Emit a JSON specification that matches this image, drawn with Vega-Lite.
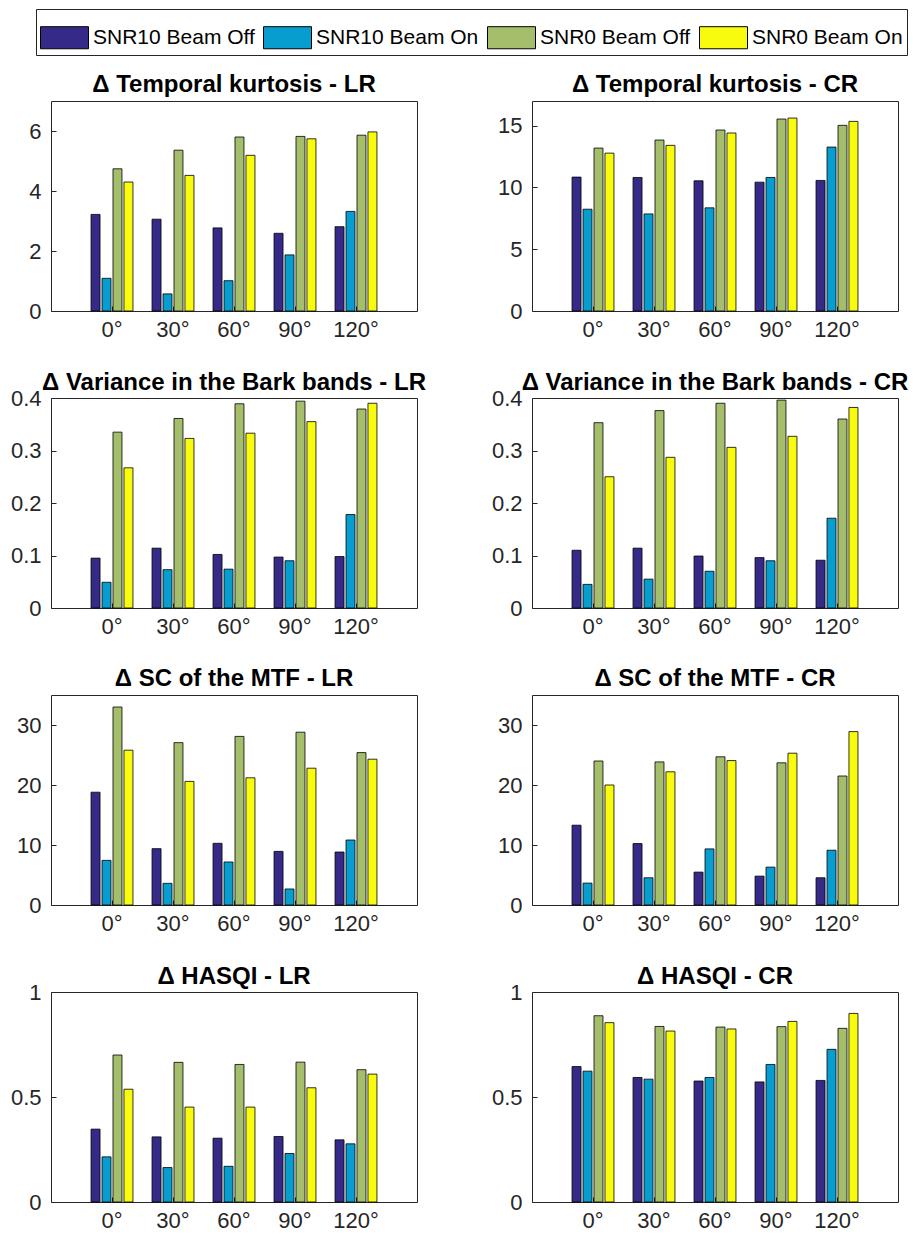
{
  "$schema": "https://vega.github.io/schema/vega-lite/v6.json",
  "background": "white",
  "padding": {"left": 9, "top": 8, "right": 5, "bottom": 0},
  "spacing": {"row": 87, "column": 115},
  "columns": 2,
  "bounds": "flush",
  "data": {"values": [
    {"panel":"TKLR","angle":"0°","series":"SNR10 Beam Off","value":3.22},
    {"panel":"TKLR","angle":"0°","series":"SNR10 Beam On","value":1.09},
    {"panel":"TKLR","angle":"0°","series":"SNR0 Beam Off","value":4.74},
    {"panel":"TKLR","angle":"0°","series":"SNR0 Beam On","value":4.30},
    {"panel":"TKLR","angle":"30°","series":"SNR10 Beam Off","value":3.06},
    {"panel":"TKLR","angle":"30°","series":"SNR10 Beam On","value":0.57},
    {"panel":"TKLR","angle":"30°","series":"SNR0 Beam Off","value":5.36},
    {"panel":"TKLR","angle":"30°","series":"SNR0 Beam On","value":4.52},
    {"panel":"TKLR","angle":"60°","series":"SNR10 Beam Off","value":2.77},
    {"panel":"TKLR","angle":"60°","series":"SNR10 Beam On","value":1.01},
    {"panel":"TKLR","angle":"60°","series":"SNR0 Beam Off","value":5.80},
    {"panel":"TKLR","angle":"60°","series":"SNR0 Beam On","value":5.19},
    {"panel":"TKLR","angle":"90°","series":"SNR10 Beam Off","value":2.59},
    {"panel":"TKLR","angle":"90°","series":"SNR10 Beam On","value":1.87},
    {"panel":"TKLR","angle":"90°","series":"SNR0 Beam Off","value":5.82},
    {"panel":"TKLR","angle":"90°","series":"SNR0 Beam On","value":5.74},
    {"panel":"TKLR","angle":"120°","series":"SNR10 Beam Off","value":2.81},
    {"panel":"TKLR","angle":"120°","series":"SNR10 Beam On","value":3.32},
    {"panel":"TKLR","angle":"120°","series":"SNR0 Beam Off","value":5.86},
    {"panel":"TKLR","angle":"120°","series":"SNR0 Beam On","value":5.97},

    {"panel":"TKCR","angle":"0°","series":"SNR10 Beam Off","value":10.84},
    {"panel":"TKCR","angle":"0°","series":"SNR10 Beam On","value":8.24},
    {"panel":"TKCR","angle":"0°","series":"SNR0 Beam Off","value":13.19},
    {"panel":"TKCR","angle":"0°","series":"SNR0 Beam On","value":12.78},
    {"panel":"TKCR","angle":"30°","series":"SNR10 Beam Off","value":10.81},
    {"panel":"TKCR","angle":"30°","series":"SNR10 Beam On","value":7.86},
    {"panel":"TKCR","angle":"30°","series":"SNR0 Beam Off","value":13.84},
    {"panel":"TKCR","angle":"30°","series":"SNR0 Beam On","value":13.41},
    {"panel":"TKCR","angle":"60°","series":"SNR10 Beam Off","value":10.54},
    {"panel":"TKCR","angle":"60°","series":"SNR10 Beam On","value":8.35},
    {"panel":"TKCR","angle":"60°","series":"SNR0 Beam Off","value":14.65},
    {"panel":"TKCR","angle":"60°","series":"SNR0 Beam On","value":14.41},
    {"panel":"TKCR","angle":"90°","series":"SNR10 Beam Off","value":10.43},
    {"panel":"TKCR","angle":"90°","series":"SNR10 Beam On","value":10.81},
    {"panel":"TKCR","angle":"90°","series":"SNR0 Beam Off","value":15.54},
    {"panel":"TKCR","angle":"90°","series":"SNR0 Beam On","value":15.62},
    {"panel":"TKCR","angle":"120°","series":"SNR10 Beam Off","value":10.57},
    {"panel":"TKCR","angle":"120°","series":"SNR10 Beam On","value":13.27},
    {"panel":"TKCR","angle":"120°","series":"SNR0 Beam Off","value":15.03},
    {"panel":"TKCR","angle":"120°","series":"SNR0 Beam On","value":15.35},

    {"panel":"VBLR","angle":"0°","series":"SNR10 Beam Off","value":0.095},
    {"panel":"VBLR","angle":"0°","series":"SNR10 Beam On","value":0.049},
    {"panel":"VBLR","angle":"0°","series":"SNR0 Beam Off","value":0.335},
    {"panel":"VBLR","angle":"0°","series":"SNR0 Beam On","value":0.267},
    {"panel":"VBLR","angle":"30°","series":"SNR10 Beam Off","value":0.114},
    {"panel":"VBLR","angle":"30°","series":"SNR10 Beam On","value":0.073},
    {"panel":"VBLR","angle":"30°","series":"SNR0 Beam Off","value":0.361},
    {"panel":"VBLR","angle":"30°","series":"SNR0 Beam On","value":0.323},
    {"panel":"VBLR","angle":"60°","series":"SNR10 Beam Off","value":0.102},
    {"panel":"VBLR","angle":"60°","series":"SNR10 Beam On","value":0.074},
    {"panel":"VBLR","angle":"60°","series":"SNR0 Beam Off","value":0.389},
    {"panel":"VBLR","angle":"60°","series":"SNR0 Beam On","value":0.333},
    {"panel":"VBLR","angle":"90°","series":"SNR10 Beam Off","value":0.097},
    {"panel":"VBLR","angle":"90°","series":"SNR10 Beam On","value":0.090},
    {"panel":"VBLR","angle":"90°","series":"SNR0 Beam Off","value":0.394},
    {"panel":"VBLR","angle":"90°","series":"SNR0 Beam On","value":0.355},
    {"panel":"VBLR","angle":"120°","series":"SNR10 Beam Off","value":0.098},
    {"panel":"VBLR","angle":"120°","series":"SNR10 Beam On","value":0.178},
    {"panel":"VBLR","angle":"120°","series":"SNR0 Beam Off","value":0.379},
    {"panel":"VBLR","angle":"120°","series":"SNR0 Beam On","value":0.390},

    {"panel":"VBCR","angle":"0°","series":"SNR10 Beam Off","value":0.110},
    {"panel":"VBCR","angle":"0°","series":"SNR10 Beam On","value":0.045},
    {"panel":"VBCR","angle":"0°","series":"SNR0 Beam Off","value":0.353},
    {"panel":"VBCR","angle":"0°","series":"SNR0 Beam On","value":0.250},
    {"panel":"VBCR","angle":"30°","series":"SNR10 Beam Off","value":0.114},
    {"panel":"VBCR","angle":"30°","series":"SNR10 Beam On","value":0.055},
    {"panel":"VBCR","angle":"30°","series":"SNR0 Beam Off","value":0.376},
    {"panel":"VBCR","angle":"30°","series":"SNR0 Beam On","value":0.287},
    {"panel":"VBCR","angle":"60°","series":"SNR10 Beam Off","value":0.099},
    {"panel":"VBCR","angle":"60°","series":"SNR10 Beam On","value":0.070},
    {"panel":"VBCR","angle":"60°","series":"SNR0 Beam Off","value":0.390},
    {"panel":"VBCR","angle":"60°","series":"SNR0 Beam On","value":0.306},
    {"panel":"VBCR","angle":"90°","series":"SNR10 Beam Off","value":0.096},
    {"panel":"VBCR","angle":"90°","series":"SNR10 Beam On","value":0.090},
    {"panel":"VBCR","angle":"90°","series":"SNR0 Beam Off","value":0.396},
    {"panel":"VBCR","angle":"90°","series":"SNR0 Beam On","value":0.327},
    {"panel":"VBCR","angle":"120°","series":"SNR10 Beam Off","value":0.091},
    {"panel":"VBCR","angle":"120°","series":"SNR10 Beam On","value":0.171},
    {"panel":"VBCR","angle":"120°","series":"SNR0 Beam Off","value":0.360},
    {"panel":"VBCR","angle":"120°","series":"SNR0 Beam On","value":0.382},

    {"panel":"SCLR","angle":"0°","series":"SNR10 Beam Off","value":18.8},
    {"panel":"SCLR","angle":"0°","series":"SNR10 Beam On","value":7.44},
    {"panel":"SCLR","angle":"0°","series":"SNR0 Beam Off","value":33.0},
    {"panel":"SCLR","angle":"0°","series":"SNR0 Beam On","value":25.8},
    {"panel":"SCLR","angle":"30°","series":"SNR10 Beam Off","value":9.39},
    {"panel":"SCLR","angle":"30°","series":"SNR10 Beam On","value":3.61},
    {"panel":"SCLR","angle":"30°","series":"SNR0 Beam Off","value":27.06},
    {"panel":"SCLR","angle":"30°","series":"SNR0 Beam On","value":20.6},
    {"panel":"SCLR","angle":"60°","series":"SNR10 Beam Off","value":10.28},
    {"panel":"SCLR","angle":"60°","series":"SNR10 Beam On","value":7.17},
    {"panel":"SCLR","angle":"60°","series":"SNR0 Beam Off","value":28.1},
    {"panel":"SCLR","angle":"60°","series":"SNR0 Beam On","value":21.2},
    {"panel":"SCLR","angle":"90°","series":"SNR10 Beam Off","value":8.94},
    {"panel":"SCLR","angle":"90°","series":"SNR10 Beam On","value":2.67},
    {"panel":"SCLR","angle":"90°","series":"SNR0 Beam Off","value":28.8},
    {"panel":"SCLR","angle":"90°","series":"SNR0 Beam On","value":22.8},
    {"panel":"SCLR","angle":"120°","series":"SNR10 Beam Off","value":8.83},
    {"panel":"SCLR","angle":"120°","series":"SNR10 Beam On","value":10.83},
    {"panel":"SCLR","angle":"120°","series":"SNR0 Beam Off","value":25.4},
    {"panel":"SCLR","angle":"120°","series":"SNR0 Beam On","value":24.3},

    {"panel":"SCCR","angle":"0°","series":"SNR10 Beam Off","value":13.3},
    {"panel":"SCCR","angle":"0°","series":"SNR10 Beam On","value":3.65},
    {"panel":"SCCR","angle":"0°","series":"SNR0 Beam Off","value":24.0},
    {"panel":"SCCR","angle":"0°","series":"SNR0 Beam On","value":20.0},
    {"panel":"SCCR","angle":"30°","series":"SNR10 Beam Off","value":10.24},
    {"panel":"SCCR","angle":"30°","series":"SNR10 Beam On","value":4.54},
    {"panel":"SCCR","angle":"30°","series":"SNR0 Beam Off","value":23.85},
    {"panel":"SCCR","angle":"30°","series":"SNR0 Beam On","value":22.2},
    {"panel":"SCCR","angle":"60°","series":"SNR10 Beam Off","value":5.48},
    {"panel":"SCCR","angle":"60°","series":"SNR10 Beam On","value":9.35},
    {"panel":"SCCR","angle":"60°","series":"SNR0 Beam Off","value":24.7},
    {"panel":"SCCR","angle":"60°","series":"SNR0 Beam On","value":24.07},
    {"panel":"SCCR","angle":"90°","series":"SNR10 Beam Off","value":4.81},
    {"panel":"SCCR","angle":"90°","series":"SNR10 Beam On","value":6.31},
    {"panel":"SCCR","angle":"90°","series":"SNR0 Beam Off","value":23.7},
    {"panel":"SCCR","angle":"90°","series":"SNR0 Beam On","value":25.3},
    {"panel":"SCCR","angle":"120°","series":"SNR10 Beam Off","value":4.54},
    {"panel":"SCCR","angle":"120°","series":"SNR10 Beam On","value":9.13},
    {"panel":"SCCR","angle":"120°","series":"SNR0 Beam Off","value":21.5},
    {"panel":"SCCR","angle":"120°","series":"SNR0 Beam On","value":28.9},

    {"panel":"HQLR","angle":"0°","series":"SNR10 Beam Off","value":0.347},
    {"panel":"HQLR","angle":"0°","series":"SNR10 Beam On","value":0.215},
    {"panel":"HQLR","angle":"0°","series":"SNR0 Beam Off","value":0.700},
    {"panel":"HQLR","angle":"0°","series":"SNR0 Beam On","value":0.537},
    {"panel":"HQLR","angle":"30°","series":"SNR10 Beam Off","value":0.310},
    {"panel":"HQLR","angle":"30°","series":"SNR10 Beam On","value":0.164},
    {"panel":"HQLR","angle":"30°","series":"SNR0 Beam Off","value":0.665},
    {"panel":"HQLR","angle":"30°","series":"SNR0 Beam On","value":0.452},
    {"panel":"HQLR","angle":"60°","series":"SNR10 Beam Off","value":0.304},
    {"panel":"HQLR","angle":"60°","series":"SNR10 Beam On","value":0.170},
    {"panel":"HQLR","angle":"60°","series":"SNR0 Beam Off","value":0.655},
    {"panel":"HQLR","angle":"60°","series":"SNR0 Beam On","value":0.452},
    {"panel":"HQLR","angle":"90°","series":"SNR10 Beam Off","value":0.312},
    {"panel":"HQLR","angle":"90°","series":"SNR10 Beam On","value":0.231},
    {"panel":"HQLR","angle":"90°","series":"SNR0 Beam Off","value":0.666},
    {"panel":"HQLR","angle":"90°","series":"SNR0 Beam On","value":0.544},
    {"panel":"HQLR","angle":"120°","series":"SNR10 Beam Off","value":0.296},
    {"panel":"HQLR","angle":"120°","series":"SNR10 Beam On","value":0.277},
    {"panel":"HQLR","angle":"120°","series":"SNR0 Beam Off","value":0.630},
    {"panel":"HQLR","angle":"120°","series":"SNR0 Beam On","value":0.609},

    {"panel":"HQCR","angle":"0°","series":"SNR10 Beam Off","value":0.645},
    {"panel":"HQCR","angle":"0°","series":"SNR10 Beam On","value":0.623},
    {"panel":"HQCR","angle":"0°","series":"SNR0 Beam Off","value":0.887},
    {"panel":"HQCR","angle":"0°","series":"SNR0 Beam On","value":0.854},
    {"panel":"HQCR","angle":"30°","series":"SNR10 Beam Off","value":0.593},
    {"panel":"HQCR","angle":"30°","series":"SNR10 Beam On","value":0.585},
    {"panel":"HQCR","angle":"30°","series":"SNR0 Beam Off","value":0.836},
    {"panel":"HQCR","angle":"30°","series":"SNR0 Beam On","value":0.814},
    {"panel":"HQCR","angle":"60°","series":"SNR10 Beam Off","value":0.576},
    {"panel":"HQCR","angle":"60°","series":"SNR10 Beam On","value":0.593},
    {"panel":"HQCR","angle":"60°","series":"SNR0 Beam Off","value":0.833},
    {"panel":"HQCR","angle":"60°","series":"SNR0 Beam On","value":0.824},
    {"panel":"HQCR","angle":"90°","series":"SNR10 Beam Off","value":0.572},
    {"panel":"HQCR","angle":"90°","series":"SNR10 Beam On","value":0.655},
    {"panel":"HQCR","angle":"90°","series":"SNR0 Beam Off","value":0.835},
    {"panel":"HQCR","angle":"90°","series":"SNR0 Beam On","value":0.860},
    {"panel":"HQCR","angle":"120°","series":"SNR10 Beam Off","value":0.579},
    {"panel":"HQCR","angle":"120°","series":"SNR10 Beam On","value":0.727},
    {"panel":"HQCR","angle":"120°","series":"SNR0 Beam Off","value":0.827},
    {"panel":"HQCR","angle":"120°","series":"SNR0 Beam On","value":0.898}
  ]},
  "concat": [
    {"title": "Δ Temporal kurtosis - LR", "transform": [{"filter": "datum.panel === 'TKLR'"}], "width": 366, "height": 210, "mark": {"type": "bar", "stroke": "#000", "strokeWidth": 0.8},
     "encoding": {"x": {"field": "angle", "type": "nominal", "sort": ["0°","30°","60°","90°","120°"], "scale": {"paddingInner": 0, "paddingOuter": 0.5}},
       "xOffset": {"field": "series", "type": "nominal", "sort": ["SNR10 Beam Off","SNR10 Beam On","SNR0 Beam Off","SNR0 Beam On"], "scale": {"paddingInner": 0.18, "paddingOuter": 0.87}},
       "y": {"field": "value", "type": "quantitative", "scale": {"domain": [0, 7], "nice": false}, "axis": {"values": [0, 2, 4, 6]}},
       "color": {"field": "series", "type": "nominal", "scale": {"domain": ["SNR10 Beam Off","SNR10 Beam On","SNR0 Beam Off","SNR0 Beam On"], "range": ["#352A87", "#079DCF", "#A5BE6B", "#F9FB0E"]}, "legend": {"orient": "none", "legendX": -15, "legendY": -92}}}},
    {"title": "Δ Temporal kurtosis - CR", "transform": [{"filter": "datum.panel === 'TKCR'"}], "width": 366, "height": 210, "mark": {"type": "bar", "stroke": "#000", "strokeWidth": 0.8},
     "encoding": {"x": {"field": "angle", "type": "nominal", "sort": ["0°","30°","60°","90°","120°"], "scale": {"paddingInner": 0, "paddingOuter": 0.5}},
       "xOffset": {"field": "series", "type": "nominal", "sort": ["SNR10 Beam Off","SNR10 Beam On","SNR0 Beam Off","SNR0 Beam On"], "scale": {"paddingInner": 0.18, "paddingOuter": 0.87}},
       "y": {"field": "value", "type": "quantitative", "scale": {"domain": [0, 17], "nice": false}, "axis": {"values": [0, 5, 10, 15]}},
       "color": {"field": "series", "type": "nominal", "scale": {"domain": ["SNR10 Beam Off","SNR10 Beam On","SNR0 Beam Off","SNR0 Beam On"], "range": ["#352A87", "#079DCF", "#A5BE6B", "#F9FB0E"]}, "legend": {"orient": "none", "legendX": -15, "legendY": -92}}}},
    {"title": {"text": "Δ Variance in the Bark bands - LR", "offset": -8}, "transform": [{"filter": "datum.panel === 'VBLR'"}], "width": 366, "height": 210, "mark": {"type": "bar", "stroke": "#000", "strokeWidth": 0.8},
     "encoding": {"x": {"field": "angle", "type": "nominal", "sort": ["0°","30°","60°","90°","120°"], "scale": {"paddingInner": 0, "paddingOuter": 0.5}},
       "xOffset": {"field": "series", "type": "nominal", "sort": ["SNR10 Beam Off","SNR10 Beam On","SNR0 Beam Off","SNR0 Beam On"], "scale": {"paddingInner": 0.18, "paddingOuter": 0.87}},
       "y": {"field": "value", "type": "quantitative", "scale": {"domain": [0, 0.4], "nice": false}, "axis": {"values": [0, 0.1, 0.2, 0.3, 0.4], "format": ".1~f"}},
       "color": {"field": "series", "type": "nominal", "scale": {"domain": ["SNR10 Beam Off","SNR10 Beam On","SNR0 Beam Off","SNR0 Beam On"], "range": ["#352A87", "#079DCF", "#A5BE6B", "#F9FB0E"]}, "legend": {"orient": "none", "legendX": -15, "legendY": -92}}}},
    {"title": {"text": "Δ Variance in the Bark bands - CR", "offset": -8}, "transform": [{"filter": "datum.panel === 'VBCR'"}], "width": 366, "height": 210, "mark": {"type": "bar", "stroke": "#000", "strokeWidth": 0.8},
     "encoding": {"x": {"field": "angle", "type": "nominal", "sort": ["0°","30°","60°","90°","120°"], "scale": {"paddingInner": 0, "paddingOuter": 0.5}},
       "xOffset": {"field": "series", "type": "nominal", "sort": ["SNR10 Beam Off","SNR10 Beam On","SNR0 Beam Off","SNR0 Beam On"], "scale": {"paddingInner": 0.18, "paddingOuter": 0.87}},
       "y": {"field": "value", "type": "quantitative", "scale": {"domain": [0, 0.4], "nice": false}, "axis": {"values": [0, 0.1, 0.2, 0.3, 0.4], "format": ".1~f"}},
       "color": {"field": "series", "type": "nominal", "scale": {"domain": ["SNR10 Beam Off","SNR10 Beam On","SNR0 Beam Off","SNR0 Beam On"], "range": ["#352A87", "#079DCF", "#A5BE6B", "#F9FB0E"]}, "legend": {"orient": "none", "legendX": -15, "legendY": -92}}}},
    {"title": "Δ SC of the MTF - LR", "transform": [{"filter": "datum.panel === 'SCLR'"}], "width": 366, "height": 210, "mark": {"type": "bar", "stroke": "#000", "strokeWidth": 0.8},
     "encoding": {"x": {"field": "angle", "type": "nominal", "sort": ["0°","30°","60°","90°","120°"], "scale": {"paddingInner": 0, "paddingOuter": 0.5}},
       "xOffset": {"field": "series", "type": "nominal", "sort": ["SNR10 Beam Off","SNR10 Beam On","SNR0 Beam Off","SNR0 Beam On"], "scale": {"paddingInner": 0.18, "paddingOuter": 0.87}},
       "y": {"field": "value", "type": "quantitative", "scale": {"domain": [0, 35], "nice": false}, "axis": {"values": [0, 10, 20, 30]}},
       "color": {"field": "series", "type": "nominal", "scale": {"domain": ["SNR10 Beam Off","SNR10 Beam On","SNR0 Beam Off","SNR0 Beam On"], "range": ["#352A87", "#079DCF", "#A5BE6B", "#F9FB0E"]}, "legend": {"orient": "none", "legendX": -15, "legendY": -92}}}},
    {"title": "Δ SC of the MTF - CR", "transform": [{"filter": "datum.panel === 'SCCR'"}], "width": 366, "height": 210, "mark": {"type": "bar", "stroke": "#000", "strokeWidth": 0.8},
     "encoding": {"x": {"field": "angle", "type": "nominal", "sort": ["0°","30°","60°","90°","120°"], "scale": {"paddingInner": 0, "paddingOuter": 0.5}},
       "xOffset": {"field": "series", "type": "nominal", "sort": ["SNR10 Beam Off","SNR10 Beam On","SNR0 Beam Off","SNR0 Beam On"], "scale": {"paddingInner": 0.18, "paddingOuter": 0.87}},
       "y": {"field": "value", "type": "quantitative", "scale": {"domain": [0, 35], "nice": false}, "axis": {"values": [0, 10, 20, 30]}},
       "color": {"field": "series", "type": "nominal", "scale": {"domain": ["SNR10 Beam Off","SNR10 Beam On","SNR0 Beam Off","SNR0 Beam On"], "range": ["#352A87", "#079DCF", "#A5BE6B", "#F9FB0E"]}, "legend": {"orient": "none", "legendX": -15, "legendY": -92}}}},
    {"title": {"text": "Δ HASQI - LR", "offset": -8}, "transform": [{"filter": "datum.panel === 'HQLR'"}], "width": 366, "height": 210, "mark": {"type": "bar", "stroke": "#000", "strokeWidth": 0.8},
     "encoding": {"x": {"field": "angle", "type": "nominal", "sort": ["0°","30°","60°","90°","120°"], "scale": {"paddingInner": 0, "paddingOuter": 0.5}},
       "xOffset": {"field": "series", "type": "nominal", "sort": ["SNR10 Beam Off","SNR10 Beam On","SNR0 Beam Off","SNR0 Beam On"], "scale": {"paddingInner": 0.18, "paddingOuter": 0.87}},
       "y": {"field": "value", "type": "quantitative", "scale": {"domain": [0, 1], "nice": false}, "axis": {"values": [0, 0.5, 1], "format": "~g"}},
       "color": {"field": "series", "type": "nominal", "scale": {"domain": ["SNR10 Beam Off","SNR10 Beam On","SNR0 Beam Off","SNR0 Beam On"], "range": ["#352A87", "#079DCF", "#A5BE6B", "#F9FB0E"]}, "legend": {"orient": "none", "legendX": -15, "legendY": -92}}}},
    {"title": {"text": "Δ HASQI - CR", "offset": -8}, "transform": [{"filter": "datum.panel === 'HQCR'"}], "width": 366, "height": 210, "mark": {"type": "bar", "stroke": "#000", "strokeWidth": 0.8},
     "encoding": {"x": {"field": "angle", "type": "nominal", "sort": ["0°","30°","60°","90°","120°"], "scale": {"paddingInner": 0, "paddingOuter": 0.5}},
       "xOffset": {"field": "series", "type": "nominal", "sort": ["SNR10 Beam Off","SNR10 Beam On","SNR0 Beam Off","SNR0 Beam On"], "scale": {"paddingInner": 0.18, "paddingOuter": 0.87}},
       "y": {"field": "value", "type": "quantitative", "scale": {"domain": [0, 1], "nice": false}, "axis": {"values": [0, 0.5, 1], "format": "~g"}},
       "color": {"field": "series", "type": "nominal", "scale": {"domain": ["SNR10 Beam Off","SNR10 Beam On","SNR0 Beam Off","SNR0 Beam On"], "range": ["#352A87", "#079DCF", "#A5BE6B", "#F9FB0E"]}, "legend": {"orient": "none", "legendX": -15, "legendY": -92}}}}
  ],
  "resolve": {"scale": {"color": "shared"}},
  "config": {
    "font": "Liberation Sans",
    "view": {"stroke": "#262626", "strokeWidth": 1},
    "title": {"fontSize": 24, "fontWeight": "bold", "color": "#000", "anchor": "middle", "offset": 4},
    "axis": {"title": null, "domain": false, "grid": false, "labelFontSize": 22, "labelColor": "#262626", "tickColor": "#262626", "tickSize": -5, "labelFont": "Liberation Sans"},
    "axisX": {"labelAngle": 0, "labelPadding": 13, "bandPosition": 0.5},
    "axisY": {"labelPadding": 15},
    "legend": {"title": null, "direction": "horizontal", "columns": 4, "symbolType": "M-1,-0.46H1V0.46H-1Z", "symbolSize": 2304, "symbolStrokeColor": "#000", "symbolStrokeWidth": 1, "symbolOpacity": 1, "labelFontSize": 21, "labelColor": "#000", "labelOffset": 4, "columnPadding": 6, "strokeColor": "#262626", "padding": 4, "labelLimit": 300}
  }
}
